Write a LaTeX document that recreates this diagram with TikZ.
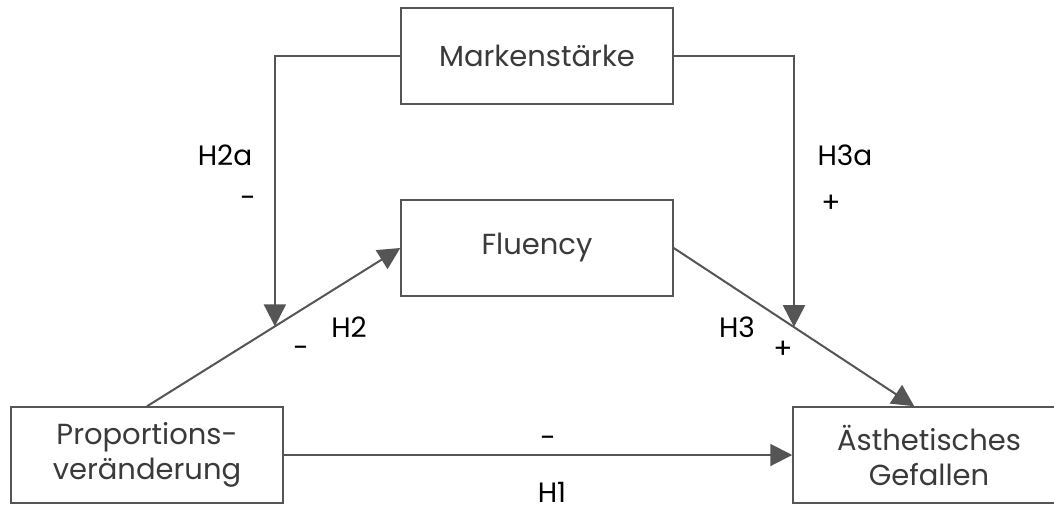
\documentclass[tikz,border=0pt]{standalone}
\usepackage{fontspec}
\setmainfont{Poppins}
\usetikzlibrary{arrows.meta,calc}
\definecolor{boxline}{HTML}{555555}
\definecolor{boxtext}{HTML}{3A3A3A}
\tikzset{
  varbox/.style={draw=boxline, line width=1.5pt, fill=white, minimum width=272pt, minimum height=96pt,
    inner sep=0pt, align=center, text=boxtext, font=\fontsize{29}{35}\selectfont},
  conn/.style={draw=boxline, line width=2pt, -{Triangle[length=22pt,width=22pt]}},
  lbl/.style={text=black, inner sep=0pt, font=\fontsize{28}{32}\selectfont}
}
\begin{document}
\begin{tikzpicture}[x=1pt,y=-1pt]
\useasboundingbox (0,0) rectangle (1054,504);
\begin{scope}
\clip (0,0) rectangle (1054,504);
\node[varbox] (mark) at (537,56) {Markenstärke};
\node[varbox] (flu) at (537,248) {Fluency};
\node[varbox] (prop) at (147,455) {Proportions-\\veränderung};
\node[varbox] (aes) at (929,455) {Ästhetisches\\Gefallen};
\coordinate (aestop) at ($(aes.north west)+(122,0)$);
\coordinate (h2a) at ($(prop.north)!0.505!(flu.west)$);
\coordinate (h3a) at ($(flu.east)!0.50!(aestop)$);
\draw[conn] (prop.north) -- (flu.west);
\draw[conn] (flu.east) -- (aestop);
\draw[conn] (prop.east) -- (aes.west);
\draw[conn] (mark.west) -| (h2a);
\draw[conn] (mark.east) -| (h3a);
\node[lbl] (l2a) at (225,155) {H2a};
\node[lbl] (s2a) at (248,202) {-};
\node[lbl] (l3a) at (845,155) {H3a};
\node[lbl] (s3a) at (831,204) {+};
\node[lbl] (l2) at (349,327) {H2};
\node[lbl] (s2) at (301,352) {-};
\node[lbl] (l3) at (737,327) {H3};
\node[lbl] (s3) at (783,350) {+};
\node[lbl] (s1) at (548,442) {-};
\node[lbl] (l1) at (552,492) {H1};
\end{scope}
\end{tikzpicture}
\end{document}
